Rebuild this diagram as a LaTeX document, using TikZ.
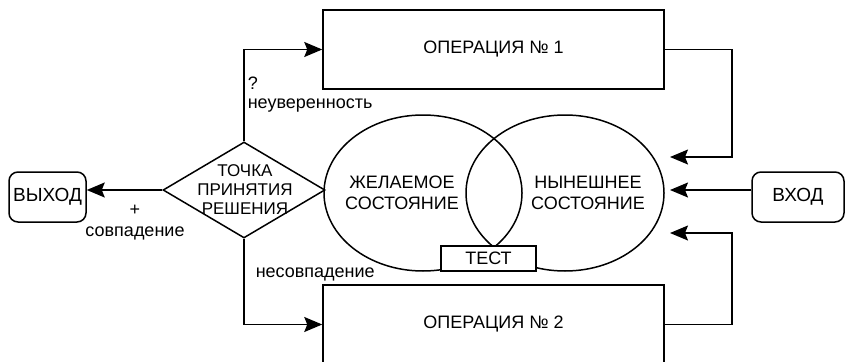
\documentclass[tikz,border=0pt]{standalone}
\usepackage{fontspec}
\setmainfont{Liberation Sans}
\usetikzlibrary{shapes.geometric,arrows.meta}
\begin{document}
\begin{tikzpicture}[x=1pt,y=-1pt,
  line width=1.5pt,
  txt/.style={font=\fontsize{18}{21}\selectfont},
  smalltxt/.style={font=\fontsize{17}{19}\selectfont},
  opbox/.style={draw, minimum width=341pt, minimum height=79pt, inner sep=0pt, txt},
  term/.style={draw, rounded corners=9pt, minimum height=50pt, inner sep=0pt, font=\fontsize{19}{22}\selectfont},
  state/.style={draw, ellipse, minimum width=198pt, minimum height=156pt, inner sep=0pt},
  testbox/.style={draw, fill=white, minimum width=95pt, minimum height=25pt, inner sep=0pt, txt},
  arr/.style={-{Stealth[length=18pt,width=15pt,inset=3pt]}},
  lbl/.style={txt, inner sep=0pt}
]
\useasboundingbox (0,0) rectangle (845,361);
\clip (0,0) rectangle (845,361);

% boxes
\node (op1) [opbox] at (493.5,49.5) {ОПЕРАЦИЯ № 1};
\node (op2) [opbox] at (493.5,324.5) {ОПЕРАЦИЯ № 2};

% states
\node (le) [state] at (423,193) {};
\node (re) [state] at (565,193) {};
\node (ds) [txt, align=center, inner sep=0pt] at (402,192.5) {ЖЕЛАЕМОЕ\\СОСТОЯНИЕ};
\node (cs) [txt, align=center, inner sep=0pt] at (588,192.5) {НЫНЕШНЕЕ\\СОСТОЯНИЕ};
\node (test) [testbox] at (488.5,258.5) {ТЕСТ};

% decision
\node (dec) [diamond, draw, minimum width=162pt, minimum height=96pt, inner sep=0pt] at (244,190) {};
\node (dect) [smalltxt, align=center, inner sep=0pt] at (245,190) {ТОЧКА\\ПРИНЯТИЯ\\РЕШЕНИЯ};

% terminals
\node (out) [term, minimum width=77pt] at (47.5,197) {ВЫХОД};
\node (in) [term, minimum width=92pt] at (798,197) {ВХОД};

% arrow targets on the right
\coordinate (t1) at (670,157);
\coordinate (t2) at (670,190);
\coordinate (t3) at (670,233);
\coordinate (rc) at (732,0);

% connectors
\draw[arr] (dec.west) -- (dec.west -| out.east);
\draw[arr] (dec.north) -- (dec.north |- op1.west) -- (op1.west);
\draw[arr] (dec.south) -- (dec.south |- op2.west) -- (op2.west);
\draw[arr] (op1.east) -- (op1.east -| rc) -- (rc |- t1) -- (t1);
\draw[arr] (op2.east) -- (op2.east -| rc) -- (rc |- t3) -- (t3);
\draw[arr] (t2 -| in.west) -- (t2);

% labels
\node (plus) [lbl] at (135,210) {+};
\node (match) [lbl] at (135,233) {совпадение};
\node (q) [lbl, anchor=west] at (247,83) {?};
\node (unc) [lbl, anchor=west] at (247,106) {неуверенность};
\node (mism) [lbl, anchor=west] at (255,274) {несовпадение};
\end{tikzpicture}
\end{document}
